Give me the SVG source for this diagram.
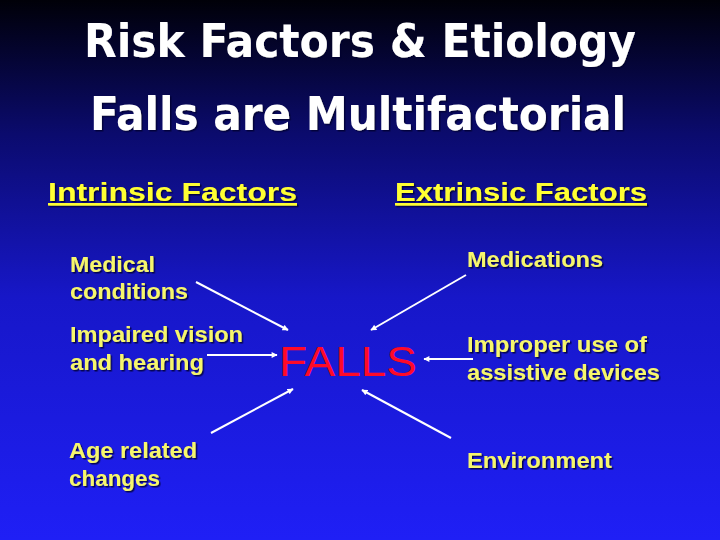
<svg xmlns="http://www.w3.org/2000/svg" width="720" height="540" viewBox="0 0 720 540">
<defs>
<linearGradient id="bg" x1="0" y1="0" x2="0" y2="1">
<stop offset="0" stop-color="#000008"/>
<stop offset="0.25" stop-color="#0b0b6e"/>
<stop offset="0.55" stop-color="#1717c8"/>
<stop offset="1" stop-color="#1f1ff6"/>
</linearGradient>
<filter id="sh" filterUnits="userSpaceOnUse" x="0" y="0" width="720" height="540">
<feDropShadow dx="1.5" dy="1.5" stdDeviation="0.6" flood-color="#000030" flood-opacity="0.8"/>
</filter>
<marker id="ah" viewBox="0 0 10 10" refX="9" refY="5" markerWidth="7" markerHeight="6" orient="auto" markerUnits="userSpaceOnUse">
<path d="M0,0 L10,5 L0,10 Z" fill="#ffffff"/>
</marker>
</defs>
<style>
.title{font-family:"DejaVu Sans Condensed","DejaVu Sans","Liberation Sans",sans-serif;font-stretch:condensed;font-weight:bold;font-size:47px;fill:#ffffff}
.head{font-family:"Liberation Sans",Arial,sans-serif;font-weight:bold;font-size:26px;fill:#ffff33;text-decoration:underline}
.lab{font-family:"Liberation Sans",Arial,sans-serif;font-weight:bold;font-size:22px;fill:#f6f66c}
.falls{font-family:"Liberation Sans",Arial,sans-serif;font-size:42px;fill:#ff0a28}
.conn line{stroke:#ffffff;stroke-width:2;marker-end:url(#ah)}
</style>
<rect width="720" height="540" fill="url(#bg)"/>
<g id="titles" filter="url(#sh)">
<text class="title" x="84" y="57" textLength="552" lengthAdjust="spacingAndGlyphs">Risk Factors &amp; Etiology</text>
<text class="title" x="90" y="130" textLength="536" lengthAdjust="spacingAndGlyphs">Falls are Multifactorial</text>
</g>
<g id="intrinsic-header" filter="url(#sh)">
<text class="head" x="48" y="201" textLength="249" lengthAdjust="spacingAndGlyphs">Intrinsic Factors</text>
</g>
<g id="extrinsic-header" filter="url(#sh)">
<text class="head" x="395" y="201" textLength="252" lengthAdjust="spacingAndGlyphs">Extrinsic Factors</text>
</g>
<g id="medical" filter="url(#sh)">
<text class="lab" x="70" y="272" textLength="85" lengthAdjust="spacingAndGlyphs">Medical</text>
<text class="lab" x="70" y="299" textLength="118" lengthAdjust="spacingAndGlyphs">conditions</text>
</g>
<g id="vision" filter="url(#sh)">
<text class="lab" x="70" y="342" textLength="173" lengthAdjust="spacingAndGlyphs">Impaired vision</text>
<text class="lab" x="70" y="370" textLength="134" lengthAdjust="spacingAndGlyphs">and hearing</text>
</g>
<g id="age" filter="url(#sh)">
<text class="lab" x="69" y="458" textLength="128" lengthAdjust="spacingAndGlyphs">Age related</text>
<text class="lab" x="69" y="486" textLength="91" lengthAdjust="spacingAndGlyphs">changes</text>
</g>
<g id="medications" filter="url(#sh)">
<text class="lab" x="467" y="267" textLength="136" lengthAdjust="spacingAndGlyphs">Medications</text>
</g>
<g id="improper" filter="url(#sh)">
<text class="lab" x="467" y="352" textLength="180" lengthAdjust="spacingAndGlyphs">Improper use of</text>
<text class="lab" x="467" y="380" textLength="193" lengthAdjust="spacingAndGlyphs">assistive devices</text>
</g>
<g id="environment" filter="url(#sh)">
<text class="lab" x="467" y="468" textLength="145" lengthAdjust="spacingAndGlyphs">Environment</text>
</g>
<g id="falls">
<text class="falls" x="279" y="376" textLength="138" lengthAdjust="spacingAndGlyphs">FALLS</text>
</g>
<g id="connectors" class="conn">
<line x1="196" y1="282" x2="288" y2="330"/>
<line x1="466" y1="275" x2="371" y2="330"/>
<line x1="207" y1="355" x2="277" y2="355"/>
<line x1="473" y1="359" x2="424" y2="359"/>
<line x1="211" y1="433" x2="293" y2="389"/>
<line x1="451" y1="438" x2="362" y2="390"/>
</g>
</svg>
